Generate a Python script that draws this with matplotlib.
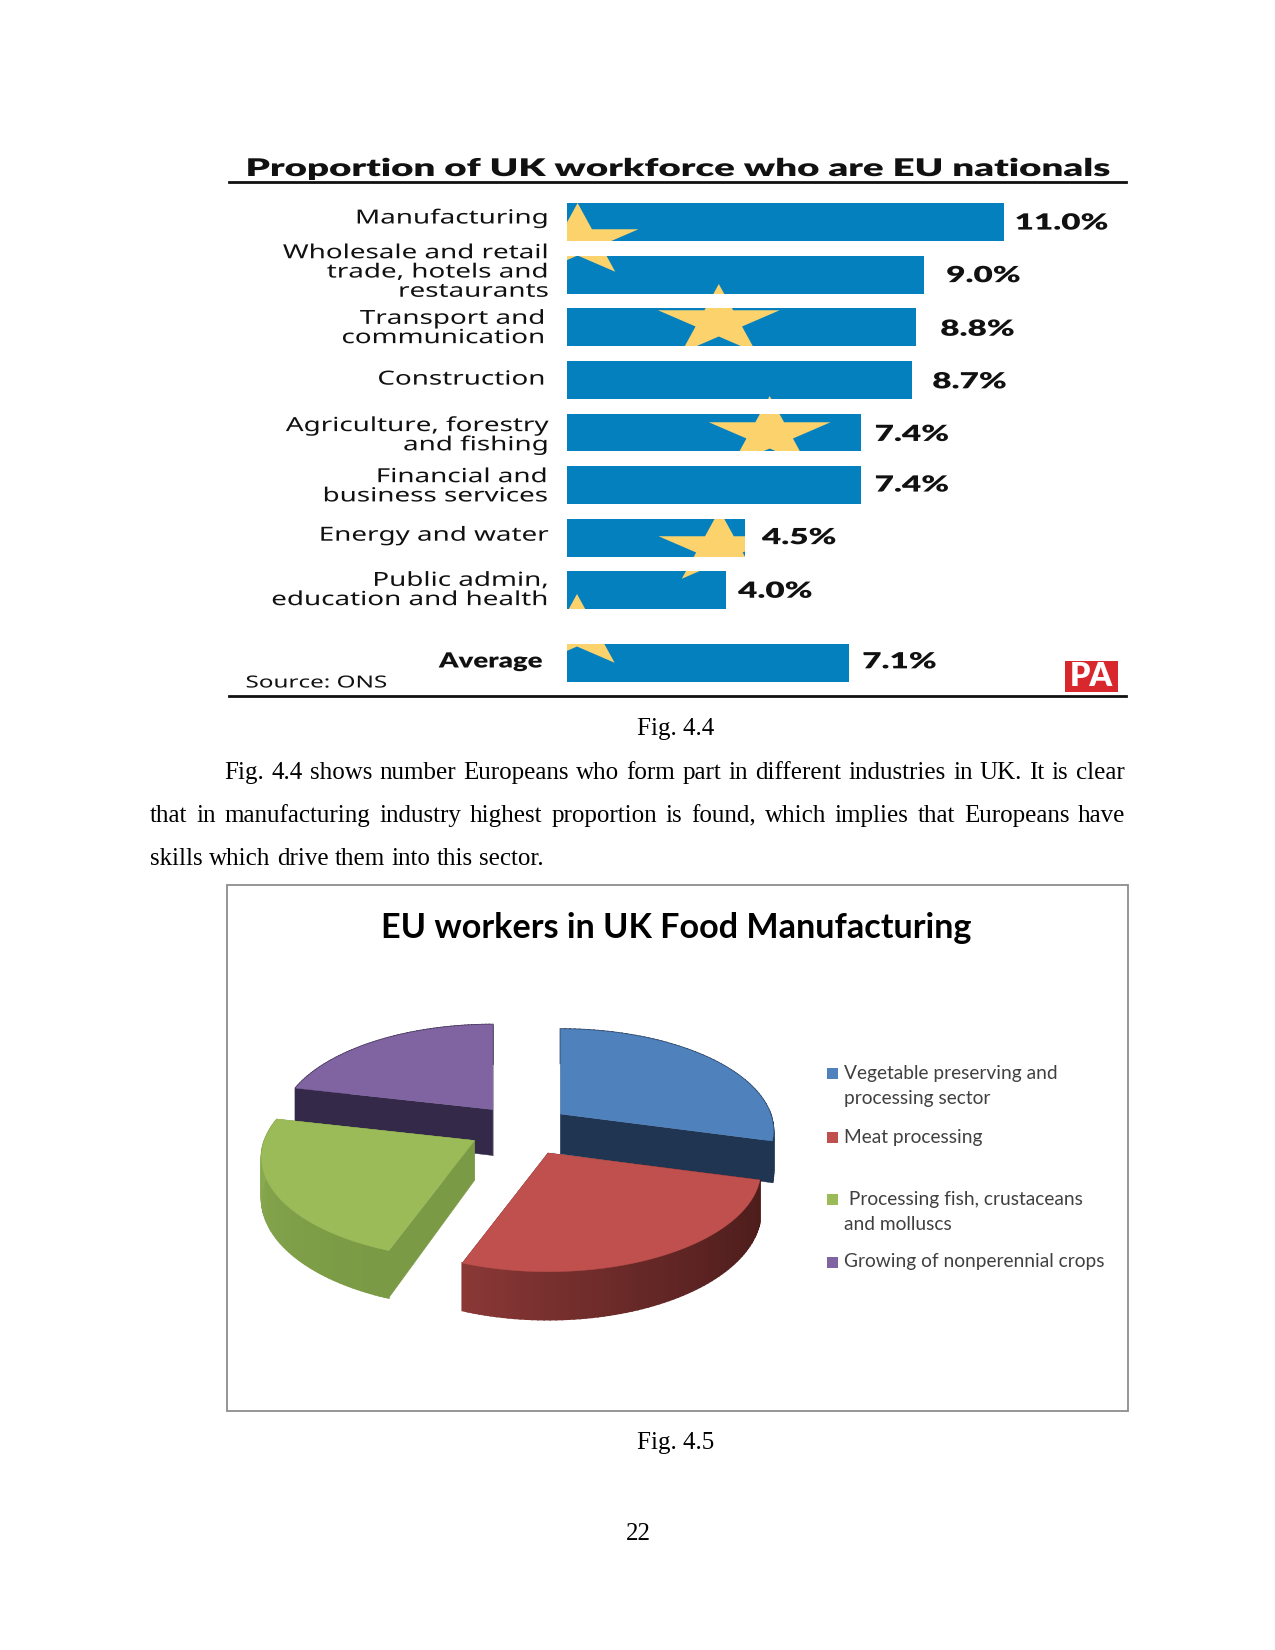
import numpy as np
import matplotlib
matplotlib.use('Agg')
import matplotlib.pyplot as plt
from matplotlib.patches import Polygon, Rectangle
from matplotlib.patheffects import AbstractPathEffect
from matplotlib.transforms import Affine2D

W, H = 1275, 1650

# bar chart data
bar_labels = ['Manufacturing', 'Wholesale and retail\ntrade, hotels and\nrestaurants',
              'Transport and\ncommunication', 'Construction',
              'Agriculture, forestry\nand fishing', 'Financial and\nbusiness services',
              'Energy and water', 'Public admin,\neducation and health', 'Average']
bar_values = [11.0, 9.0, 8.8, 8.7, 7.4, 7.4, 4.5, 4.0, 7.1]
bar_rows = [0, 1, 2, 3, 4, 5, 6, 7, 8.38]

# pie chart data
pie_labels = ['Vegetable preserving and\nprocessing sector', 'Meat processing',
              ' Processing fish, crustaceans\nand molluscs', 'Growing of nonperennial crops']
pie_values = [29.2, 26.4, 23.0, 21.4]

# page text
paragraph = ['Fig. 4.4 shows number Europeans who form part in different industries in UK. It is clear',
             'that in manufacturing industry highest proportion is found, which implies that Europeans have',
             'skills which drive them into this sector.']

# styles and placement, in page pixels
BLUE = '#0580be'
STAR = '#fbd26b'
label_y = [218.5, 272.5, 328.5, 379.6, 435.7, 486.8, 535.7, 590.5, 661]
label_right = [549, 549, 546, 546, 549, 548, 549, 549, 543]
value_dx = [11, 22, 24, 20, 14, 14, 16.5, 12.5, 13.5]
value_dy = [1, 1, 2, 2, 2, 0, 0, 1, -1]
star_centres = [(577.6, 241), (718.8, 322), (769.7, 434), (719.4, 548), (577, 632)]
STAR_RX, STAR_RY = 64, 38
pie_apex = [(560.5, 1114), (548, 1153), (474.5, 1140.5), (492.8, 1109.5)]
pie_depth = [40, 40, 40, 46]
top_cols = ['#4f81bd', '#c0504d', '#9bbb59', '#8064a2']
cut_cols = ['#1f3552', '#4f1f1e', '#7a9a45', '#35294a']
wall_from = ['#1f3552', '#4d1d1c', '#7a9a45', '#35294a']
wall_to = ['#1f3552', '#8a3836', '#8eaf52', '#35294a']
legend_y = [1073.3, 1137, 1199.7, 1262]
RX, RY, PERSP = 210, 99, 0.166


class Stretch(AbstractPathEffect):
    # widens glyphs about a fixed x, the source graphic is stretched sideways
    def __init__(self, sx, x0):
        super().__init__()
        self.sx = sx
        self.x0 = x0

    def draw_path(self, renderer, gc, tpath, affine, rgbFace=None):
        aff = affine + Affine2D().translate(-self.x0, 0).scale(self.sx, 1).translate(self.x0, 0)
        renderer.draw_path(gc, tpath, aff, rgbFace)


fig = plt.figure(figsize=(W / 100, H / 100), dpi=100, facecolor='white')
page = fig.add_axes([0, 0, 1, 1])
page.set_xlim(0, W)
page.set_ylim(H, 0)
page.axis('off')
renderer = fig.canvas.get_renderer()


def text_width(s, **kw):
    t = page.text(0, 0, s, **kw)
    w = t.get_window_extent(renderer).width
    t.remove()
    return w


sans = dict(family='Noto Sans', color='#111111')
heavy = dict(family='Lato', fontweight='heavy', color='#111111')

# ---- bars
pitch = 52.6
bar_h = 37.9
top_px, bottom_px = 203.1, 681.9
bar_x0, bar_x1 = 566.7, 1003.6
ax = fig.add_axes([bar_x0 / W, 1 - bottom_px / H, (bar_x1 - bar_x0) / W, (bottom_px - top_px) / H])
ax.set_xlim(0, 11)
ax.set_ylim((bottom_px - top_px - bar_h / 2) / pitch, -bar_h / 2 / pitch)
ax.axis('off')
ax.patch.set_alpha(0)
bars = ax.barh(bar_rows, bar_values, height=bar_h / pitch, color=BLUE)

# one set of stars cut by every bar
ang = np.deg2rad(np.arange(10) * 36)
ring = np.where(np.arange(10) % 2 == 0, 1, 0.382)
for cx, cy in star_centres:
    pts = np.column_stack([cx + STAR_RX * ring * np.sin(ang), cy - STAR_RY * ring * np.cos(ang)])
    for b in bars:
        p = Polygon(pts, closed=True, color=STAR, lw=0, transform=page.transData, zorder=3)
        ax.add_patch(p)
        p.set_clip_path(b)

sx_lab = 194 / text_width('Manufacturing', fontsize=14, **sans)
sx_avg = 104 / text_width('Average', fontsize=15, **heavy)
sx_val = 94.5 / text_width('11.0%', fontsize=16, **heavy)
for i, (lab, val) in enumerate(zip(bar_labels, bar_values)):
    right = label_right[i]
    if lab == 'Average':
        t = page.text(right, label_y[i], lab, ha='right', va='center', fontsize=15, **heavy)
        t.set_path_effects([Stretch(sx_avg, right)])
    else:
        t = page.text(right, label_y[i], lab, ha='right', va='center', ma='right', fontsize=14,
                      linespacing=0.95, **sans)
        t.set_path_effects([Stretch(sx_lab, right)])
    end_px = bar_x0 + val * (bar_x1 - bar_x0) / 11
    centre = top_px + bar_h / 2 + bar_rows[i] * pitch
    vx = end_px + value_dx[i]
    t = page.text(vx, centre + value_dy[i], '%.1f%%' % val, ha='left', va='center', fontsize=16, **heavy)
    t.set_path_effects([Stretch(sx_val, vx)])

title = 'Proportion of UK workforce who are EU nationals'
t = page.text(245.5, 169, title, ha='left', va='center', fontsize=17.5, **heavy)
t.set_path_effects([Stretch(864 / text_width(title, fontsize=17.5, **heavy), 245.5)])
page.plot([228.5, 1125.5], [182.4, 182.4], color='#111111', lw=2)
page.plot([228.5, 1125.5], [695.6, 695.6], color='#111111', lw=2)
t = page.text(245.5, 683.5, 'Source: ONS', ha='left', va='center', fontsize=12, **sans)
t.set_path_effects([Stretch(142 / text_width('Source: ONS', fontsize=12, **sans), 245.5)])
page.add_patch(Rectangle((1065, 661), 53, 31, color='#d9272e', lw=0))
page.text(1091.5, 677, 'PA', ha='center', va='center', fontsize=23, family='Lato', fontweight='heavy',
          color='white')

# ---- page text
serif = 'Liberation Serif'
page.text(675.6, 729, 'Fig. 4.4', ha='center', va='center', fontsize=18, family=serif, color='black')
page.text(675.6, 1443, 'Fig. 4.5', ha='center', va='center', fontsize=18, family=serif, color='black')
page.text(638.6, 1534, '22', ha='center', va='center', fontsize=18, family=serif, color='black')

line_x = [224.5, 150, 150]
line_y = [772.6, 816, 859]
line_end = [1124.5, 1125.5]
for k, line in enumerate(paragraph):
    words = line.split(' ')
    items = [page.text(0, line_y[k], w, ha='left', va='center', fontsize=18, family=serif, color='black')
             for w in words]
    widths = [t.get_window_extent(renderer).width for t in items]
    if k < 2:
        gap = (line_end[k] - line_x[k] - sum(widths)) / (len(words) - 1)
    else:
        gap = 6.4
    x = line_x[k]
    for t, wd in zip(items, widths):
        t.set_x(x)
        x += wd + gap

# ---- pie panel
page.add_patch(Rectangle((227, 885.1), 901, 526, fill=False, ec='#8c8c8c', lw=1.3))
page.text(676.5, 928, 'EU workers in UK Food Manufacturing', ha='center', va='center',
          fontsize=24.6, fontweight='bold', family='Lato', color='black')

edges = np.concatenate([[0], np.cumsum(pie_values)]) / sum(pie_values) * 360


def project(theta, ax0, ay0, depth):
    X, Y = np.sin(theta), np.cos(theta)
    w = 1 + PERSP * Y
    return ax0 + RX * X / w, ay0 - RY * Y / w, depth / w


def mix(c0, c1, t):
    a, b = np.array(matplotlib.colors.to_rgb(c0)), np.array(matplotlib.colors.to_rgb(c1))
    return a + (b - a) * t


# back slices first so the front ones cover their sides
for i in [3, 0, 2, 1]:
    ax0, ay0 = pie_apex[i]
    depth = pie_depth[i]
    th = np.deg2rad(np.linspace(edges[i], edges[i + 1], 70))
    x, y, d = project(th, ax0, ay0, depth)
    for j in [0, -1]:
        page.add_patch(Polygon([(ax0, ay0), (x[j], y[j]), (x[j], y[j] + d[j]), (ax0, ay0 + depth)],
                               color=cut_cols[i], lw=0.3))
    for j in range(len(th) - 1):
        c = mix(wall_from[i], wall_to[i], (j / (len(th) - 2)) ** 1.5)
        page.add_patch(Polygon([(x[j], y[j]), (x[j + 1], y[j + 1]),
                                (x[j + 1], y[j + 1] + d[j + 1]), (x[j], y[j] + d[j])],
                               color=c, lw=1.2))
    page.add_patch(Polygon(np.vstack([[ax0, ay0], np.column_stack([x, y])]), color=top_cols[i], lw=0.3))

for i, lab in enumerate(pie_labels):
    page.add_patch(Rectangle((827, legend_y[i] - 5.5), 11, 11, color=top_cols[i], lw=0))
    for n, part in enumerate(lab.split('\n')):
        page.text(843.6, legend_y[i] + n * 25.2, part, ha='left', va='center',
                  fontsize=13.8, family='Lato', color='#404040')

fig.savefig('out.png', dpi=100)
